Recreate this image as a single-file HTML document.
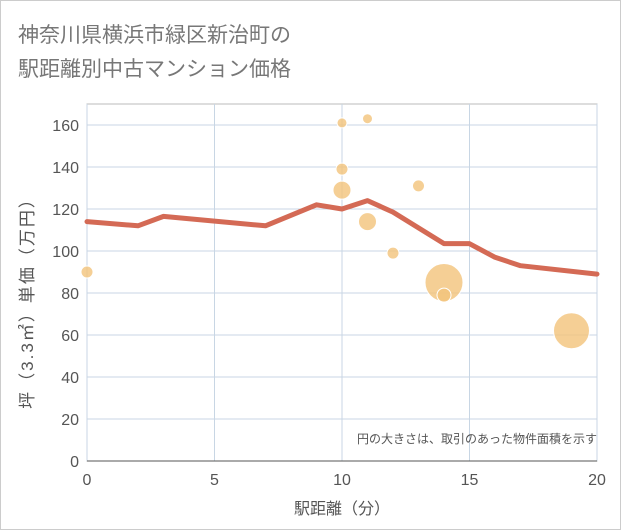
<!DOCTYPE html>
<html><head><meta charset="utf-8"><style>
body{margin:0;background:#fff}
svg{display:block;font-family:"Liberation Sans","Noto Sans CJK JP",sans-serif}
</style></head><body>
<svg id="c" width="621" height="530" viewBox="0 0 621 530">
<rect x="0.5" y="0.5" width="620" height="529" fill="#fff" stroke="#ccc"/>
<text x="18" y="42" font-size="21" fill="#777">神奈川県横浜市緑区新治町の</text>
<text x="18" y="76" font-size="21" fill="#777">駅距離別中古マンション価格</text>
<g id="grid"></g>
<g id="marks"></g>
<text x="597" y="443" font-size="12" fill="#555" text-anchor="end">円の大きさは、取引のあった物件面積を示す</text>
<text x="342" y="514" font-size="16" fill="#555" text-anchor="middle">駅距離（分）</text>
<text transform="translate(33,299) rotate(-90)" font-size="17" letter-spacing="2" fill="#555" text-anchor="middle">坪（3.3㎡）単価（万円）</text>
</svg>
<script>
const lineX=[0,2,3,7,9,10,11,12,14,15,16,17,20];
const lineY=[114,112,116.5,112,122,120,124,118.5,103.5,103.5,97,93,89];
const bubX=[0,10,11,10,10,11,13,12,14,14,19];
const bubY=[90,161,163,139,129,114,131,99,85,79,62];
const bubR=[6,5,5,6,9,9,6,6,19,7,18];
const xTicks=[0,5,10,15,20];
const yTicks=[0,20,40,60,80,100,120,140,160];
const X0=87,X1=597,Y0=461,Y1=104,YMAX=170;
const sx=v=>X0+(X1-X0)*v/20;
const sy=v=>Y0-(Y0-Y1)*v/YMAX;
const NS="http://www.w3.org/2000/svg";
function mk(t,a,p){const e=document.createElementNS(NS,t);for(const k in a)e.setAttribute(k,a[k]);p.appendChild(e);return e;}
const g=document.getElementById('grid'),m=document.getElementById('marks');
const fr=mk('rect',{x:X0,y:Y1,width:X1-X0,height:Y0-Y1,fill:'none',stroke:'#bbb'},g);


yTicks.forEach(v=>{
 const l=mk('line',{x1:X0,x2:X1,y1:sy(v),y2:sy(v),stroke:'#c8d6e4'},g);
 
 
 const t=mk('text',{x:X0-8,y:sy(v)+6,'font-size':16,fill:'#555','text-anchor':'end'},g);
 t.textContent=v;
 
 
});
xTicks.forEach(v=>{
 const l=mk('line',{x1:sx(v),x2:sx(v),y1:Y1,y2:Y0,stroke:'#c8d6e4'},g);
 
 
 const t=mk('text',{x:sx(v),y:Y0+24,'font-size':16,fill:'#555','text-anchor':'middle'},g);
 t.textContent=v;
 
 
});
const ax=mk('line',{x1:X0,x2:X1,y1:Y0,y2:Y0,stroke:'#555'},g);


const pl=mk('polyline',{points:lineX.map((x,i)=>sx(x)+','+sy(lineY[i])).join(' '),fill:'none',stroke:'#d46a55',
'stroke-width':5,'stroke-linejoin':'round','stroke-linecap':'round'},m);


bubX.forEach((x,i)=>{
 const c=mk('circle',{cx:sx(x),cy:sy(bubY[i]),r:bubR[i],fill:'#f2c37a','fill-opacity':0.8,stroke:'#fff','stroke-width':1},m);
 
 
});
</script>
</body></html>
